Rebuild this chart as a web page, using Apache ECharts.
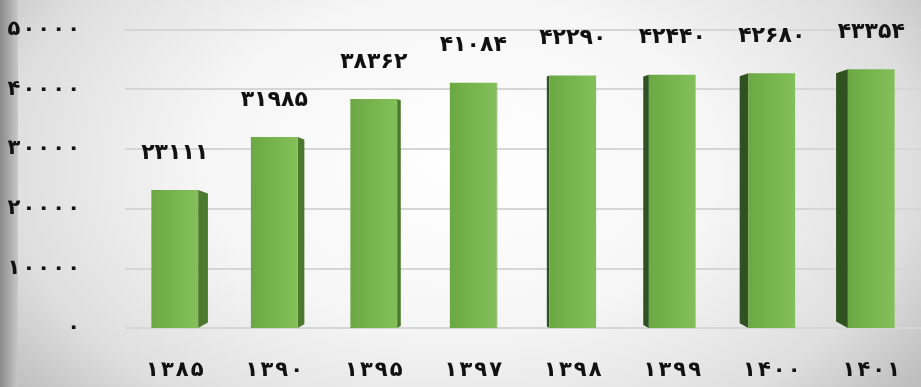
<!DOCTYPE html>
<html><head><meta charset="utf-8">
<script src="https://cdn.jsdelivr.net/npm/echarts@6/dist/echarts.min.js"></script>
<style>
html,body{margin:0;padding:0;width:921px;height:387px;overflow:hidden;}
body{background:radial-gradient(ellipse 62% 95% at 50% 42%, #ffffff 0%, #f6f6f6 45%, #dedede 80%, #bdbdbd 100%);}
#edge{position:absolute;left:0;top:0;width:18px;height:387px;background:linear-gradient(to right,#8a8a8a,#c8c8c8);}
#c{position:absolute;left:0;top:0;width:921px;height:387px;}
</style></head>
<body><div id="edge"></div><div id="c"></div>
<script>
const categories = ['1385','1390','1395','1397','1398','1399','1400','1401'];
const values = [23111, 31985, 38362, 41084, 42290, 42440, 42680, 43354];
const yTicks = [0, 10000, 20000, 30000, 40000, 50000];

function fa(v, sep){ return String(v).split('').map(d => '۰۱۲۳۴۵۶۷۸۹'[+d]).join(sep === undefined ? '\u200A' : sep); }

const chart = echarts.init(document.getElementById('c'), null, {renderer:'canvas'});
const FONT = '"DejaVu Sans", sans-serif';
chart.setOption({
  backgroundColor: 'transparent',
  animation: false,
  grid: { left: 125, top: 29.5, width: 811, height: 298.5, containLabel: false },
  xAxis: {
    type: 'category', data: categories,
    axisLine: {show:false}, axisTick:{show:false},
    axisLabel: { margin: 32, color:'#111', fontSize: 21, fontWeight:'bold', fontFamily: FONT, formatter: v => fa(v) }
  },
  yAxis: {
    type: 'value', min: yTicks[0], max: yTicks[yTicks.length-1], interval: 10000,
    axisLine:{show:false}, axisTick:{show:false},
    splitLine: { lineStyle: { color:'#d6d6d6', width: 2 } },
    axisLabel: { margin: 45, color:'#111', fontSize: 21, fontWeight:'bold', fontFamily: FONT, formatter: v => fa(v) }
  },
  series: [{
    type: 'custom',
    data: values.map((v,i)=>[i, v]),
    renderItem: function(params, api){
      const idx = api.value(0), val = api.value(1);
      const top = api.coord([idx, val]);
      const base = api.coord([idx, 0]);
      const band = api.size([1,0])[0];
      const bw = band * 0.47;
      const cs = params.coordSys;
      const cx = top[0], ty = top[1], by = base[1];
      const x0 = cx - bw/2, x1 = cx + bw/2;
      const vx = cs.x + cs.width * 0.46;
      const w = (vx - cx) * 0.031;
      const aw = Math.abs(w);
      const ex = w > 0 ? x1 : x0;
      const side = [[ex, ty],[ex + w, ty + aw*0.35],[ex + w, by - aw*0.55],[ex, by]];
      const children = [];
      if (aw > 0.5) children.push({
        type:'polygon', shape:{points: side},
        style:{ fill: w > 0 ? '#4b7a2e' : '#2f5220' }
      });
      children.push({
        type:'rect', shape:{x:x0, y:ty, width:bw, height:by-ty},
        style:{ fill: new echarts.graphic.LinearGradient(0,0,1,0,[{offset:0,color:'#6ba843'},{offset:1,color:'#84c05a'}]) }
      });
      children.push({
        type:'text',
        style:{ text: fa(val, ''), x: cx, y: Math.max(ty - 37, 22), align:'center', verticalAlign:'middle',
          fill:'#111', font: 'bold 22px ' + FONT }
      });
      return { type:'group', children };
    }
  }]
});
</script></body></html>
